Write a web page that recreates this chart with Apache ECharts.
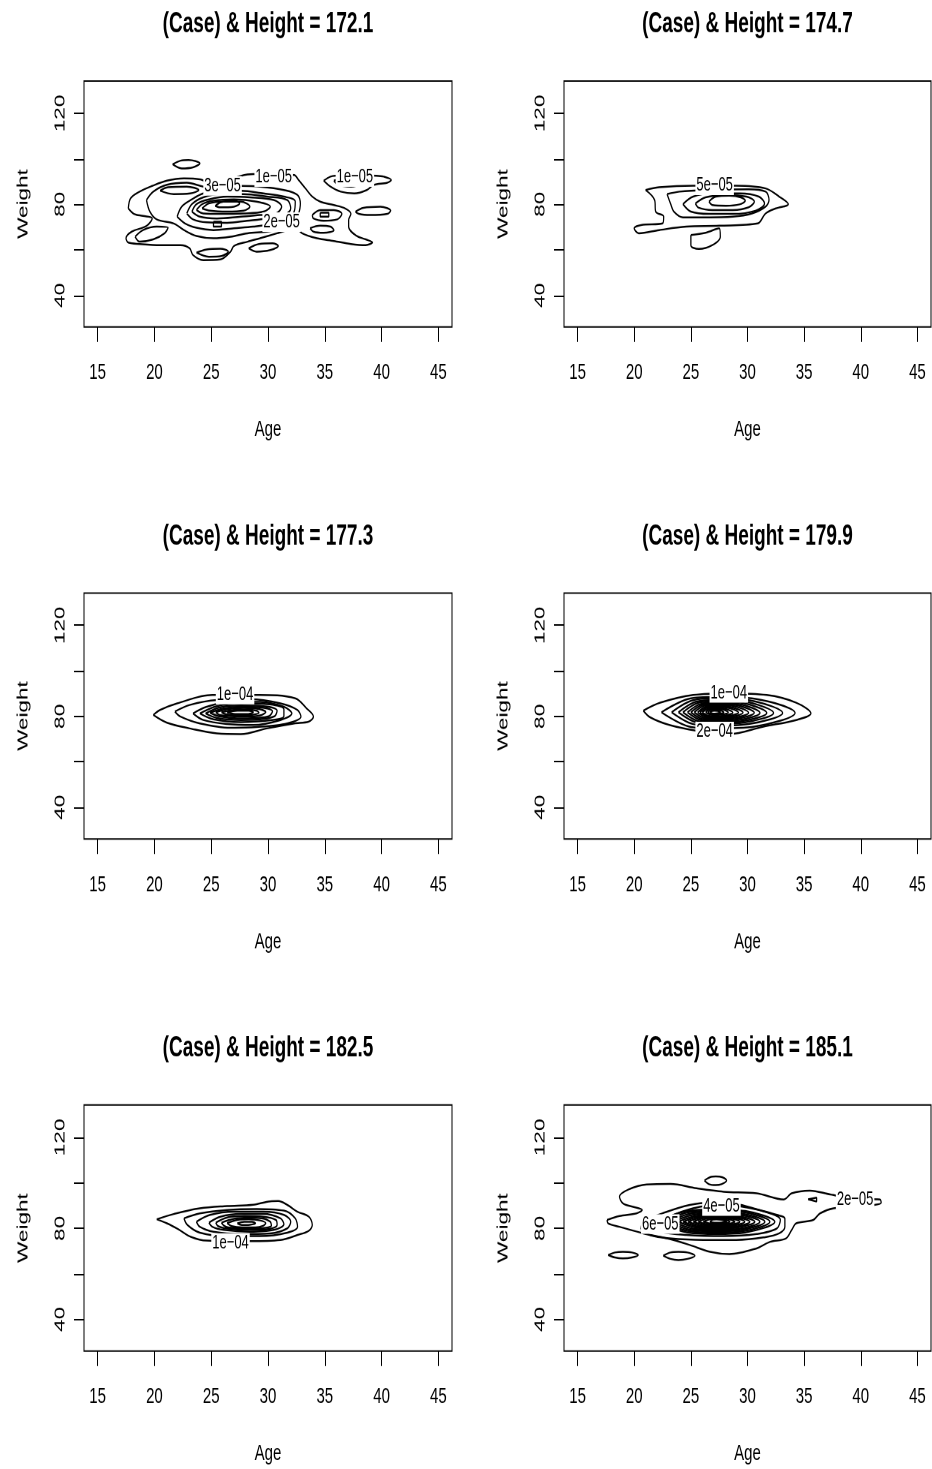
<!DOCTYPE html>
<html><head><meta charset="utf-8">
<script src="https://cdn.jsdelivr.net/npm/echarts@6/dist/echarts.min.js"></script>
<style>
html,body{margin:0;padding:0;background:#fff;overflow:hidden;width:932px;height:1469px;}
#chart{width:932px;height:979px;transform:scaleY(1.50051);transform-origin:0 0;}
</style></head><body><div id="chart"></div>
<script>
// ---------- data ----------
const panelTitles = ['(Case) & Height = 172.1','(Case) & Height = 174.7','(Case) & Height = 177.3','(Case) & Height = 179.9','(Case) & Height = 182.5','(Case) & Height = 185.1'];
const ageTicks = [15,20,25,30,35,40,45];
const weightTicks = [40,60,80,100,120];
const weightTickLabels = [40,80,120];
const ageRange = [13.8,46.2];
const weightRange = [26.1,134.2];

// contour lines, points are [age, weight]
const contours1721 = [
 [[17.7,78.2],[17.9,82.6],[18.7,85.6],[19.8,88.1],[21.1,90.4],[22.6,91.4],[24.0,91.0],[25.2,89.2],[26.4,90.4],[27.6,92.5],[28.7,93.3],[30.5,93.2],[32.3,92.9],[32.7,90.7],[33.3,87.0],[33.9,83.4],[34.6,81.2],[35.8,79.7],[36.8,78.2],[37.3,75.8],[37.1,73.1],[37.1,70.2],[37.7,66.5],[38.6,64.6],[39.2,63.3],[38.6,62.1],[37.3,62.6],[35.8,63.9],[34.3,65.1],[33.0,67.3],[32.3,70.2],[31.7,68.7],[30.8,67.3],[29.3,65.1],[28.2,63.6],[27.0,61.7],[26.7,59.2],[25.8,55.8],[24.3,55.5],[23.4,57.7],[23.1,60.7],[22.3,62.1],[20.5,62.1],[18.7,62.6],[17.7,63.2],[17.5,65.1],[18.0,68.0],[19.3,70.5],[19.8,73.8],[19.0,74.9],[18.2,75.8],[17.7,78.2]],
 [[21.6,97.6],[22.3,99.2],[23.0,99.5],[24.0,98.0],[23.4,96.3],[22.4,95.8],[21.6,97.6]],
 [[20.5,86.0],[21.2,87.5],[22.85,87.8],[23.9,86.3],[23.15,84.8],[21.7,84.5],[20.5,86.0]],
 [[19.3,81.9],[19.9,85.6],[21.1,88.6],[22.85,89.5],[24.3,87.8],[25.8,87.0],[27.6,88.1],[29.3,87.8],[31.4,86.3],[32.6,84.1],[32.85,80.4],[32.7,76.0],[32.3,71.6],[31.4,69.5],[29.9,68.0],[28.2,67.3],[26.7,65.8],[25.2,65.1],[23.7,66.1],[22.6,68.7],[21.7,71.6],[20.2,73.4],[19.6,76.8],[19.3,81.9]],
 [[22.0,74.6],[22.4,79.0],[23.3,82.2],[24.3,84.8],[25.8,86.0],[27.6,86.0],[29.6,84.8],[31.4,83.4],[32.4,81.2],[32.3,76.8],[31.7,73.8],[30.5,71.6],[28.7,70.2],[27.0,69.5],[25.2,68.7],[23.7,69.7],[22.7,71.6],[22.0,74.6]],
 [[22.85,76.0],[23.3,80.1],[24.3,83.1],[25.8,84.5],[27.85,84.5],[29.9,83.4],[31.7,81.9],[32.0,78.2],[31.4,75.3],[29.9,73.8],[28.15,72.8],[26.4,71.9],[24.6,72.1],[23.4,73.4],[22.85,76.0]],
 [[23.3,76.8],[23.7,80.1],[24.8,82.2],[26.4,83.4],[28.4,83.1],[30.5,81.9],[31.2,79.0],[30.8,76.3],[29.3,75.3],[27.6,74.6],[25.5,73.8],[24.0,74.6],[23.3,76.8]],
 [[23.7,77.5],[24.2,80.1],[25.2,81.6],[27.0,82.2],[29.0,81.2],[30.2,79.0],[29.6,76.8],[27.85,76.0],[25.8,75.8],[24.3,76.0],[23.7,77.5]],
 [[24.2,78.2],[24.8,80.4],[26.1,81.2],[27.6,81.2],[28.4,79.0],[27.85,77.2],[26.4,76.8],[24.9,77.2],[24.2,78.2]],
 [[25.35,79.3],[25.9,81.0],[27.0,81.6],[27.5,80.4],[27.0,79.0],[25.8,78.7],[25.35,79.3]],
 [[25.2,72.4],[25.9,72.4],[25.9,70.2],[25.2,70.2],[25.2,72.4]],
 [[18.3,65.8],[19.0,68.7],[20.2,70.2],[21.2,69.7],[20.9,67.3],[19.9,64.6],[18.7,63.6],[18.3,65.8]],
 [[23.7,58.8],[24.6,60.2],[25.8,60.5],[26.5,59.2],[25.9,57.3],[24.8,57.0],[23.7,58.8]],
 [[28.3,60.7],[29.2,62.6],[30.4,62.9],[30.9,61.7],[30.2,59.9],[29.0,59.2],[28.3,60.7]],
 [[34.9,90.4],[35.5,92.2],[35.9,92.6],[37.7,92.7],[39.5,92.6],[40.2,92.2],[40.85,90.7],[40.5,89.5],[39.3,88.5],[38.7,86.3],[37.6,84.8],[36.4,85.6],[35.5,87.8],[34.9,90.4]],
 [[35.8,90.4],[36.7,91.4],[37.6,90.7],[38.0,88.9],[37.3,87.8],[36.2,88.5],[35.8,90.4]],
 [[37.7,76.8],[38.4,78.5],[39.9,79.0],[40.8,77.2],[40.5,75.8],[39.0,75.3],[38.0,75.8],[37.7,76.8]],
 [[33.9,75.3],[34.6,77.5],[35.8,77.5],[36.5,75.8],[36.1,73.4],[34.9,72.8],[34.0,73.8],[33.9,75.3]],
 [[34.6,76.3],[35.35,76.3],[35.35,74.6],[34.6,74.6],[34.6,76.3]],
 [[33.7,69.5],[34.6,70.6],[35.5,70.2],[35.8,68.7],[34.9,67.5],[34.0,68.0],[33.7,69.5]]
];
const labels1721 = [[30.5,92.0,'1e\u221205'],[37.65,92.0,'1e\u221205'],[26.0,88.1,'3e\u221205'],[31.2,72.2,'2e\u221205']];

const contours1747 = [
 [[21.0,86.3],[22.2,87.5],[25.2,88.2],[29.0,88.2],[31.6,87.0],[32.8,83.4],[33.6,80.1],[32.5,78.2],[31.6,76.0],[30.9,71.6],[27.5,70.6],[24.6,70.2],[22.2,68.7],[20.4,67.3],[20.0,69.5],[20.6,70.9],[22.5,71.6],[22.6,74.6],[21.9,76.8],[21.8,81.9],[21.0,86.3]],
 [[22.9,84.5],[24.0,85.6],[26.3,86.3],[30.1,86.6],[31.6,85.6],[31.9,81.9],[31.6,79.0],[30.4,76.0],[28.7,74.6],[26.3,74.3],[24.3,74.3],[23.5,76.8],[23.2,80.4],[22.9,84.5]],
 [[24.3,80.1],[25.2,83.4],[26.9,84.8],[29.3,84.8],[31.0,83.4],[31.5,80.4],[30.7,77.2],[28.7,75.8],[26.6,75.8],[25.0,76.8],[24.3,80.1]],
 [[25.4,80.4],[26.3,83.1],[28.1,84.1],[29.9,83.4],[30.6,81.2],[30.1,78.7],[28.7,77.5],[26.9,77.5],[25.7,78.5],[25.4,80.4]],
 [[26.6,81.2],[27.2,83.4],[28.4,83.8],[29.4,83.1],[29.8,81.6],[29.3,80.0],[28.1,79.4],[26.9,79.7],[26.6,81.2]],
 [[25.0,66.5],[26.3,67.5],[27.5,69.5],[27.6,65.8],[26.9,62.1],[25.7,60.4],[25.0,62.1],[25.0,66.5]]
];
const labels1747 = [[27.1,88.4,'5e\u221205']];

const contours1773 = [
 [[19.9,80.6],[20.5,82.8],[22.0,85.7],[25.1,89.4],[29.2,89.4],[32.4,87.9],[33.4,83.5],[34.0,79.9],[33.6,77.7],[32.3,76.9],[29.9,74.7],[27.6,72.2],[25.5,72.5],[23.1,74.7],[21.1,77.2],[19.9,80.6]],
 [[21.8,82.1],[23.1,85.0],[25.5,87.2],[28.4,87.5],[31.1,85.7],[32.6,82.8],[32.9,79.9],[31.7,76.9],[29.0,75.3],[26.7,75.0],[24.0,76.9],[22.3,79.9],[21.8,82.1]],
 [[23.4,81.3],[24.6,84.2],[26.7,86.4],[29.3,86.4],[31.4,84.2],[32.1,81.3],[31.1,78.4],[28.7,76.2],[26.4,76.6],[24.3,78.4],[23.4,81.3]],
 [[24.0,81.3],[25.5,84.5],[27.6,85.7],[29.9,85.4],[31.4,83.1],[31.4,80.1],[29.9,78.1],[27.6,77.5],[25.2,78.7],[24.0,81.3]],
 [[24.5,81.3],[25.8,84.0],[27.6,84.8],[29.6,84.5],[30.8,82.5],[30.6,80.1],[29.3,78.7],[27.6,78.4],[25.5,79.3],[24.5,81.3]],
 [[24.9,81.6],[26.1,83.5],[27.7,84.2],[29.3,84.0],[30.4,82.2],[30.1,80.1],[28.9,79.3],[27.3,79.1],[25.8,79.9],[24.9,81.6]],
 [[25.4,81.8],[26.5,83.2],[27.9,83.7],[29.2,83.2],[29.8,81.9],[29.3,80.4],[28.1,79.9],[26.7,80.1],[25.7,80.7],[25.4,81.8]],
 [[25.9,81.8],[27.0,82.8],[28.1,83.1],[29.0,82.5],[29.2,81.6],[28.6,80.7],[27.4,80.4],[26.3,80.9],[25.9,81.8]],
 [[26.4,81.8],[27.3,82.5],[28.3,82.5],[28.7,81.8],[28.1,81.0],[27.1,81.0],[26.4,81.8]]
];
const labels1773 = [[27.1,89.6,'1e\u221204']];

const contours1799 = [
 [[20.8,82.5],[22.3,86.0],[25.2,89.4],[28.4,90.1],[31.7,89.4],[34.3,86.0],[35.6,81.3],[34.3,78.4],[31.4,75.5],[28.4,72.2],[25.5,73.7],[23.1,76.2],[21.4,79.6],[20.8,82.5]],
 [[22.4,81.8],[24.8,87.7],[27.1,88.6],[30.7,87.7],[34.2,81.5],[30.7,75.6],[27.1,74.7],[24.8,75.6],[22.4,81.8]],
 [[23.3,81.8],[25.2,87.1],[27.1,87.9],[30.1,87.1],[33.1,81.5],[30.1,76.6],[27.1,75.8],[25.2,76.6],[23.3,81.8]],
 [[23.9,81.8],[25.5,86.5],[27.1,87.2],[29.7,86.5],[32.3,81.5],[29.7,77.3],[27.1,76.6],[25.5,77.3],[23.9,81.8]],
 [[24.3,81.8],[25.7,86.0],[27.1,86.6],[29.4,86.0],[31.7,81.5],[29.4,77.8],[27.1,77.2],[25.7,77.8],[24.3,81.8]],
 [[24.7,81.8],[25.9,85.5],[27.1,86.0],[29.1,85.5],[31.1,81.5],[29.1,78.3],[27.1,77.8],[25.9,78.3],[24.7,81.8]],
 [[25.0,81.8],[26.05,85.1],[27.1,85.6],[28.85,85.1],[30.6,81.6],[28.85,78.8],[27.1,78.4],[26.05,78.8],[25.0,81.8]],
 [[25.3,81.8],[26.2,84.7],[27.1,85.1],[28.6,84.7],[30.1,81.6],[28.6,79.2],[27.1,78.8],[26.2,79.2],[25.3,81.8]],
 [[25.6,81.8],[26.35,84.3],[27.1,84.7],[28.35,84.3],[29.6,81.7],[28.35,79.6],[27.1,79.3],[26.35,79.6],[25.6,81.8]],
 [[25.8,81.8],[26.45,83.9],[27.1,84.2],[28.15,83.9],[29.2,81.7],[28.15,80.0],[27.1,79.7],[26.45,80.0],[25.8,81.8]],
 [[26.0,81.8],[26.55,83.5],[27.1,83.8],[27.9,83.5],[28.7,81.7],[27.9,80.3],[27.1,80.1],[26.55,80.3],[26.0,81.8]],
 [[26.3,81.8],[26.7,83.2],[27.1,83.4],[27.7,83.2],[28.3,81.7],[27.7,80.8],[27.1,80.6],[26.7,80.8],[26.3,81.8]],
 [[26.5,81.8],[26.8,82.8],[27.1,82.9],[27.5,82.8],[27.9,81.8],[27.5,81.0],[27.1,80.9],[26.8,81.0],[26.5,81.8]],
 [[26.7,81.8],[26.9,82.4],[27.1,82.5],[27.35,82.4],[27.6,81.8],[27.35,81.3],[27.1,81.2],[26.9,81.3],[26.7,81.8]]
];
const labels1799 = [[28.35,90.3,'1e\u221204'],[27.1,73.3,'2e\u221204']];

const contours1825 = [
 [[20.2,84.0],[21.7,86.3],[24.0,88.8],[26.4,89.8],[28.7,90.4],[30.2,91.9],[30.9,92.0],[31.7,90.3],[32.6,87.3],[33.6,85.1],[33.9,81.5],[33.6,79.0],[32.6,77.1],[31.1,74.9],[28.4,74.4],[24.6,74.6],[23.2,76.3],[22.1,79.6],[21.1,82.2],[20.2,84.0]],
 [[22.6,84.4],[24.0,86.6],[26.4,88.1],[29.0,88.5],[31.4,87.8],[32.4,84.4],[32.6,80.7],[31.7,78.1],[29.3,76.6],[26.4,76.6],[24.0,78.1],[22.9,81.5],[22.6,84.4]],
 [[23.7,82.9],[24.9,85.9],[27.0,87.3],[29.6,87.3],[31.4,85.9],[32.0,82.9],[31.7,80.0],[30.2,77.8],[27.6,77.5],[25.2,78.5],[24.0,80.7],[23.7,82.9]],
 [[24.8,82.5],[25.8,85.1],[27.6,86.3],[29.6,86.3],[31.1,84.4],[31.4,81.9],[30.5,79.3],[28.4,78.5],[26.1,79.3],[25.1,80.7],[24.8,82.5]],
 [[25.4,82.5],[26.4,84.8],[27.9,85.4],[29.6,85.1],[30.7,83.7],[30.8,81.5],[29.9,79.6],[28.2,79.3],[26.4,79.9],[25.6,81.0],[25.4,82.5]],
 [[25.9,82.5],[27.0,84.2],[28.2,84.7],[29.5,84.4],[30.2,82.9],[30.3,81.2],[29.3,80.0],[27.9,79.9],[26.5,80.4],[26.1,81.3],[25.9,82.5]],
 [[26.4,82.3],[27.3,83.7],[28.3,84.0],[29.3,83.5],[29.8,82.3],[29.6,81.2],[28.9,80.4],[27.7,80.4],[26.8,81.0],[26.4,82.3]],
 [[27.3,82.2],[27.9,82.9],[28.6,82.9],[28.9,82.2],[28.4,81.6],[27.7,81.5],[27.3,82.2]]
];
const labels1825 = [[26.7,73.6,'1e\u221204']];

const contours1851 = [
 [[17.6,83.7],[18.7,85.4],[20.2,86.6],[20.7,88.1],[19.9,89.5],[19.0,91.0],[18.7,93.9],[19.5,97.1],[21.1,99.3],[23.2,99.5],[25.5,97.6],[27.9,96.1],[30.8,95.4],[33.2,92.7],[33.9,95.4],[35.5,96.6],[37.3,94.9],[39.5,93.0],[41.7,92.7],[41.8,91.3],[41.2,90.3],[39.6,89.5],[37.6,88.8],[36.4,86.6],[35.8,83.7],[34.3,82.2],[33.9,79.3],[33.4,75.6],[32.0,74.1],[30.8,71.2],[28.4,68.7],[26.7,69.7],[24.9,72.7],[22.9,75.6],[20.8,77.8],[18.7,80.7],[17.7,82.2],[17.6,83.7]],
 [[20.6,79.6],[20.8,82.9],[22.9,87.3],[24.9,90.3],[26.7,91.3],[29.0,90.7],[30.8,88.4],[32.6,85.9],[33.3,84.2],[33.3,80.7],[32.8,77.8],[31.4,76.0],[29.0,74.9],[26.1,74.9],[23.1,75.6],[21.4,77.0],[20.6,79.6]],
 [[21.7,80.7],[23.1,85.1],[25.2,88.8],[27.3,90.3],[29.6,89.5],[32.0,86.6],[32.9,83.7],[32.6,80.0],[30.8,77.5],[27.9,76.6],[24.6,77.1],[22.3,78.5],[21.7,80.7]],
 [[22.12,82.9],[24.7,87.64],[27.26,88.35],[29.8,87.64],[32.41,82.9],[29.8,78.2],[27.26,77.5],[24.7,78.2],[22.12,82.9]],
 [[22.56,82.9],[24.9,87.14],[27.26,87.77],[29.6,87.14],[31.97,82.9],[29.6,78.72],[27.26,78.1],[24.9,78.72],[22.56,82.9]],
 [[23.0,82.9],[25.1,86.62],[27.26,87.18],[29.4,86.62],[31.53,82.9],[29.4,79.23],[27.26,78.68],[25.1,79.23],[23.0,82.9]],
 [[23.44,82.9],[25.35,86.11],[27.26,86.59],[29.2,86.11],[31.09,82.9],[29.2,79.74],[27.26,79.27],[25.35,79.74],[23.44,82.9]],
 [[23.88,82.9],[25.6,85.6],[27.26,86.0],[28.95,85.6],[30.65,82.9],[28.95,80.25],[27.26,79.85],[25.6,80.25],[23.88,82.9]],
 [[24.32,82.9],[25.8,85.22],[27.26,85.57],[28.75,85.22],[30.21,82.9],[28.75,80.63],[27.26,80.29],[25.8,80.63],[24.32,82.9]],
 [[24.76,82.9],[26.0,84.84],[27.26,85.13],[28.5,84.84],[29.76,82.9],[28.5,81.02],[27.26,80.73],[26.0,81.02],[24.76,82.9]],
 [[25.21,82.9],[26.25,84.58],[27.26,84.84],[28.3,84.58],[29.32,82.9],[28.3,81.4],[27.26,81.17],[26.25,81.4],[25.21,82.9]],
 [[25.65,82.9],[26.45,84.32],[27.26,84.54],[28.05,84.32],[28.88,82.9],[28.05,81.79],[27.26,81.61],[26.45,81.79],[25.65,82.9]],
 [[26.09,82.9],[26.7,84.07],[27.26,84.25],[27.85,84.07],[28.44,82.9],[27.85,82.17],[27.26,82.05],[26.7,82.17],[26.09,82.9]],
 [[26.68,82.9],[26.95,83.82],[27.26,83.96],[27.7,83.82],[28.15,82.9],[27.7,82.56],[27.26,82.49],[26.95,82.56],[26.68,82.9]],
 [[26.2,101.0],[26.7,102.5],[27.2,102.8],[27.8,102.4],[28.15,101.0],[27.7,99.4],[27.2,99.0],[26.6,99.4],[26.2,101.0]],
 [[17.7,68.3],[18.3,69.4],[19.0,69.7],[19.8,69.4],[20.35,68.3],[19.8,67.2],[19.0,66.8],[18.3,67.2],[17.7,68.3]],
 [[22.56,68.0],[23.2,69.4],[23.9,69.7],[24.7,69.4],[25.35,68.0],[24.7,66.6],[23.9,66.1],[23.2,66.6],[22.56,68.0]],
 [[35.35,92.8],[36.1,93.5],[36.1,91.8],[35.35,92.8]],
 [[39.8,90.6],[40.15,91.0],[40.5,90.7],[40.15,90.3],[39.8,90.6]]
];
const labels1851 = [[39.5,92.7,'2e\u221205'],[27.7,89.8,'4e\u221205'],[22.3,81.9,'6e\u221205']];

const panelContours = [contours1721,contours1747,contours1773,contours1799,contours1825,contours1851];
const panelLabels = [labels1721,labels1747,labels1773,labels1799,labels1825,labels1851];

// ---------- layout (unstretched px; page is stretched vertically by CSS) ----------
const S = 1469/979;
const FONT = '"Liberation Sans", Arial, Helvetica, sans-serif';
const colLeft = [84,564], colWidth = [368,367];
const rowTop = [81,593,1105].map(v=>v/S);
const boxH = 246/S;
const titleTop = [7, 7+512/S, 7+1024/S];

const grid=[], xAxis=[], yAxis=[], title=[], series=[];
panelTitles.forEach((t,i)=>{
  const c=i%2, r=Math.floor(i/2);
  grid.push({left:colLeft[c], top:rowTop[r], width:colWidth[c], height:boxH, show:true,
    borderColor:'#000', borderWidth:1, backgroundColor:'transparent', containLabel:false, outerBoundsMode:'none'});
  title.push({text:t, left:colLeft[c]+colWidth[c]/2, top:titleTop[r], textAlign:'center', padding:0,
    textStyle:{fontSize:19, fontWeight:'bold', color:'#000', fontFamily:FONT}});
  xAxis.push({gridIndex:i, type:'value', min:ageRange[0], max:ageRange[1],
    splitLine:{show:false}, axisLine:{show:false},
    axisTick:{show:true, customValues:ageTicks, length:10, lineStyle:{color:'#000', width:1}},
    axisLabel:{customValues:ageTicks, margin:23, fontSize:15, color:'#000', fontFamily:FONT,
      formatter:v=>ageTicks.includes(v)?String(v):''},
    name:'Age', nameLocation:'middle', nameGap:61,
    nameTextStyle:{fontSize:15, color:'#000', fontFamily:FONT}});
  yAxis.push({gridIndex:i, type:'value', min:weightRange[0], max:weightRange[1],
    splitLine:{show:false}, axisLine:{show:false},
    axisTick:{show:true, customValues:weightTicks, length:10, lineStyle:{color:'#000', width:1}},
    axisLabel:{customValues:weightTicks, rotate:90, margin:16, fontSize:15, color:'#000', fontFamily:FONT,
      formatter:v=>weightTickLabels.includes(v)?String(v):''},
    name:'Weight', nameLocation:'middle', nameGap:53,
    nameTextStyle:{fontSize:15, color:'#000', fontFamily:FONT}});
  panelContours[i].forEach(line=>{
    series.push({type:'line', xAxisIndex:i, yAxisIndex:i, data:line, symbol:'none', showSymbol:false,
      smooth:0.35, silent:true, z:2, lineStyle:{color:'#000', width:1.25, opacity:1}});
  });
  series.push({type:'scatter', xAxisIndex:i, yAxisIndex:i, silent:true, z:5, symbolSize:1,
    itemStyle:{color:'#fff', opacity:1},
    emphasis:{disabled:true},
    data:panelLabels[i].map(l=>({value:[l[0],l[1]], name:l[2]})),
    label:{show:true, position:'inside', formatter:'{b}', fontSize:13, color:'#000', fontFamily:FONT,
      backgroundColor:'#ffffff', padding:[0,1], opacity:1, textBorderWidth:0, textShadowBlur:0}});
});

const chart = echarts.init(document.getElementById('chart'), null, {renderer:'canvas', devicePixelRatio:2});
chart.setOption({animation:false, backgroundColor:'#fff', title, grid, xAxis, yAxis, series});
</script></body></html>
